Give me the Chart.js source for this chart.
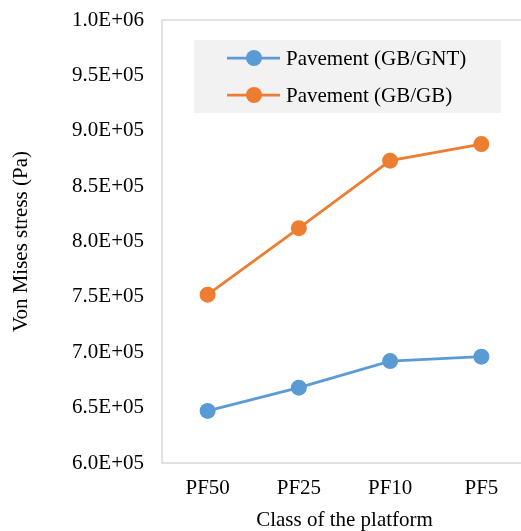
<!DOCTYPE html>
<html>
<head>
<meta charset="utf-8">
<script src="https://cdn.jsdelivr.net/npm/chart.js@4/dist/chart.umd.min.js"></script>
<style>
  html, body { margin: 0; padding: 0; background: #fff; overflow: hidden; }
  canvas { display: block; }
</style>
</head>
<body>
<!-- a bit wider/taller than the window: the plot frame runs off the right edge in the original -->
<canvas id="canvas" width="535" height="533"></canvas>
<script>
  // values
  const platforms = ['PF50', 'PF25', 'PF10', 'PF5'];
  const gbGnt = [647000, 668000, 692000, 696000];
  const gbGb = [752000, 812000, 873000, 888000];
  const seriesNames = ['Pavement (GB/GNT)', 'Pavement (GB/GB)'];
  const seriesColors = ['#5b9bd5', '#ed7d31'];

  const serif = "'Liberation Serif', 'Times New Roman', serif";

  // 6.0E+05 style labels
  function sci(v) {
    var s = Number(v).toExponential(1).toUpperCase();
    return s.replace(/E([+-])(\d)$/, 'E$10$2');
  }

  // grey frame round the plot + legend inside it
  const frameAndLegend = {
    id: 'frameAndLegend',
    beforeDatasetsDraw(chart) {
      const a = chart.chartArea;
      const ctx = chart.ctx;
      ctx.save();
      ctx.strokeStyle = '#d9d9d9';
      ctx.lineWidth = 1.5;
      ctx.strokeRect(a.left, a.top, a.right - a.left, a.bottom - a.top);
      ctx.restore();
    },
    afterDraw(chart) {
      const a = chart.chartArea;
      const ctx = chart.ctx;
      const x0 = a.left + 32, y0 = a.top + 20;
      ctx.save();
      ctx.fillStyle = '#f2f2f2';
      ctx.fillRect(x0, y0, 307, 73);
      ctx.font = '21px ' + serif;
      ctx.textBaseline = 'middle';
      chart.data.datasets.forEach(function (ds, i) {
        const y = y0 + 18 + i * 37;
        ctx.strokeStyle = ds.borderColor;
        ctx.lineWidth = 2.75;
        ctx.beginPath();
        ctx.moveTo(x0 + 33, y);
        ctx.lineTo(x0 + 86, y);
        ctx.stroke();
        ctx.fillStyle = ds.backgroundColor;
        ctx.beginPath();
        ctx.arc(x0 + 60, y, 8, 0, Math.PI * 2);
        ctx.fill();
        ctx.fillStyle = '#000';
        ctx.fillText(ds.label, x0 + 92, y + 1);
      });
      ctx.restore();
    }
  };

  const data = {
    labels: platforms,
    datasets: [{
      label: seriesNames[0],
      data: gbGnt,
      borderColor: seriesColors[0],
      backgroundColor: seriesColors[0],
      borderWidth: 2.75,
      pointRadius: 8,
      pointHoverRadius: 8,
      pointBorderWidth: 0
    }, {
      label: seriesNames[1],
      data: gbGb,
      borderColor: seriesColors[1],
      backgroundColor: seriesColors[1],
      borderWidth: 2.75,
      pointRadius: 8,
      pointHoverRadius: 8,
      pointBorderWidth: 0
    }]
  };

  const config = {
    type: 'line',
    data: data,
    plugins: [frameAndLegend],
    options: {
      responsive: false,
      animation: false,
      layout: { padding: { left: 0, top: 20, right: 2, bottom: 0 } },
      plugins: { legend: { display: false }, tooltip: { enabled: false } },
      scales: {
        x: {
          offset: true,
          grid: { display: false, drawTicks: false },
          border: { display: false },
          ticks: { color: '#000', font: { family: serif, size: 21 }, padding: 13 },
          title: {
            display: true, text: 'Class of the platform', color: '#000',
            font: { family: serif, size: 21 }, padding: { top: 0, bottom: 0 }
          },
          afterFit: function (scale) {
            scale.height = 70;
            scale.paddingLeft = 0;
            scale.paddingRight = 0;
          }
        },
        y: {
          min: 600000,
          max: 1000000,
          grid: { display: false, drawTicks: false },
          border: { display: false },
          ticks: {
            stepSize: 50000, color: '#000', padding: 18,
            font: { family: serif, size: 21 },
            callback: function (v) { return sci(v); }
          },
          title: {
            display: true, text: 'Von Mises stress (Pa)', color: '#000',
            font: { family: serif, size: 21 }, padding: { top: 9, bottom: 0 }
          },
          afterFit: function (scale) {
            scale.width = 162;
            scale.paddingTop = 0;
            scale.paddingBottom = 0;
          }
        }
      }
    }
  };

  const canvas = document.getElementById('canvas');
  const chart = new Chart(canvas, config);
</script>
</body>
</html>
